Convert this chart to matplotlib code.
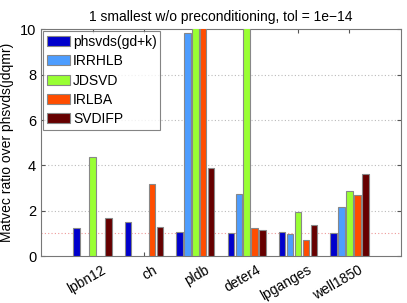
import numpy as np
import matplotlib
matplotlib.use("Agg")
import matplotlib.pyplot as plt
import matplotlib.transforms as mtransforms

plt.rcParams["font.family"] = ["Liberation Sans", "DejaVu Sans"]

matrices = ["lpbn12", "ch", "pldb", "deter4", "lpganges", "well1850"]
methods  = ["phsvds(gd+k)", "IRRHLB", "JDSVD", "IRLBA", "SVDIFP"]
colors   = ["#0000cc", "#4d9dff", "#99ff33", "#ff4d00", "#660000"]

# ratio per method (0 = no bar drawn; values > 10 are cut off by the axis)
phsvds_gdk = [1.24, 1.50, 1.07, 1.01, 1.07, 1.00]
irrhlb     = [0.0, 0.0, 9.83, 2.72, 0.97, 2.15]
jdsvd      = [4.36, 0.0, 12.0, 12.0, 1.96, 2.88]
irlba      = [0.0, 3.17, 12.0, 1.22, 0.69, 2.68]
svdifp     = [1.69, 1.27, 3.87, 1.15, 1.36, 3.61]
series = [phsvds_gdk, irrhlb, jdsvd, irlba, svdifp]

fig = plt.figure(figsize=(4.07, 3.03), dpi=100)
ax = fig.add_axes([0.101, 0.155, 0.884, 0.748])

x = np.arange(1, len(matrices) + 1)
step, width = 0.155, 0.125
for i, (vals, name, c) in enumerate(zip(series, methods, colors)):
    vals = np.array(vals)
    xs = x + (i - 2) * step
    show = vals > 0
    ax.bar(xs[show], vals[show], width=width, color=c, edgecolor="#888888",
           linewidth=0.8, label=name, zorder=3)

ax.set_xlim(0, 7)
ax.set_ylim(0, 10)
ax.set_yticks([0, 2, 4, 6, 8, 10])
ax.set_xticks(x)
ax.set_xticklabels([])
# rotated labels sit a bit right of the tick, like matlab does it
shift = mtransforms.ScaledTranslation(9 / 100, -7 / 100, fig.dpi_scale_trans)
for xi, name in zip(x, matrices):
    ax.text(xi, 0, name, transform=ax.get_xaxis_transform() + shift,
            rotation=30, ha="right", va="top", rotation_mode="anchor", fontsize=10)
ax.tick_params(axis="y", labelsize=10.5)
ax.tick_params(direction="in", top=True, right=True, length=3, color="#555555")

for yv in [2, 4, 6, 8]:
    ax.axhline(yv, color="#bbbbbb", linestyle=(0, (1, 2)), linewidth=0.8, zorder=1)
ax.axhline(1, color="#ee9999", linestyle=(0, (1, 2)), linewidth=0.8, zorder=1)

for s in ax.spines.values():
    s.set_color("#777777")

ax.set_ylabel("Matvec ratio over phsvds(jdqmr)", fontsize=10)
ax.set_title("1 smallest w/o preconditioning, tol = 1e\u221214", fontsize=10)

leg = ax.legend(loc="upper left", fontsize=10, frameon=True, fancybox=False,
                borderpad=0.25, labelspacing=0.38, handlelength=1.7, handleheight=0.75,
                handletextpad=0.2, borderaxespad=0.15, edgecolor="#666666")
leg.get_frame().set_linewidth(0.8)

fig.savefig("out.png", dpi=100)
